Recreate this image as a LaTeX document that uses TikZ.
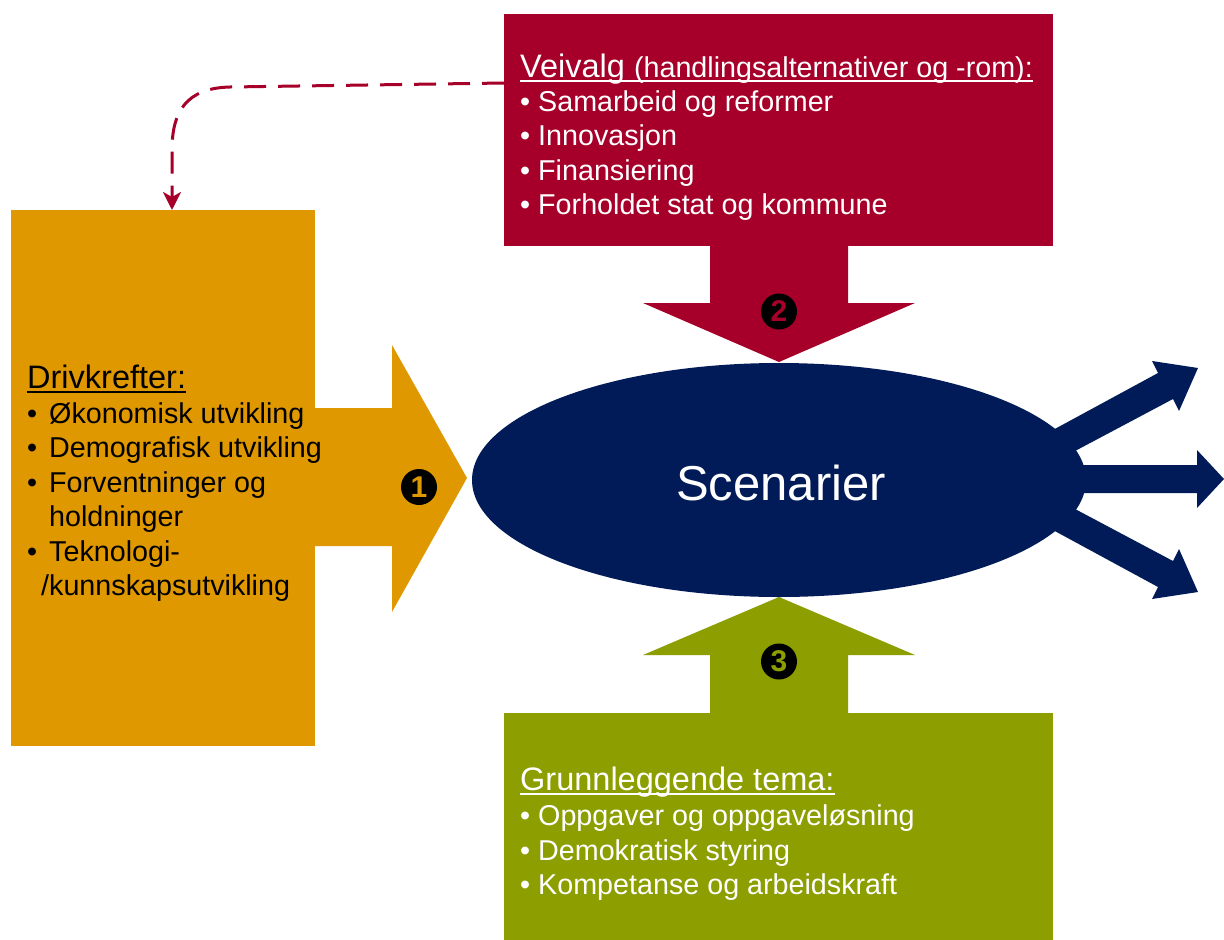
\documentclass[tikz,border=0pt]{standalone}
\usepackage{fontspec}
\setmainfont{Liberation Sans}
\usetikzlibrary{arrows.meta,shapes.geometric,calc}
\definecolor{vred}{RGB}{166,0,42}
\definecolor{dorange}{RGB}{224,152,0}
\definecolor{golive}{RGB}{140,158,0}
\definecolor{snavy}{RGB}{0,27,88}
\begin{document}
\begin{tikzpicture}[x=1pt,y=-1pt,
  boxnode/.style={inner sep=0pt, outer sep=0pt, anchor=north west},
  txt/.style={inner sep=0pt, anchor=base west, font=\fontsize{28.7}{34}\selectfont},
  ttl/.style={inner sep=0pt, anchor=base west, font=\fontsize{32.5}{38}\selectfont},
  num/.style={circle, fill=black, minimum size=36pt, inner sep=0pt, font=\fontsize{30}{30}\selectfont\bfseries},
  uline/.style={line width=2pt},
  dashline/.style={draw=vred, line width=3pt, dash pattern=on 22pt off 12pt,
     -{Stealth[length=18pt,width=18pt,inset=5pt]}}]
\useasboundingbox (0,0) rectangle (1224,940);
\fill[white] (0,0) rectangle (1224,940);

% boxes
\node[boxnode, fill=dorange, minimum width=304pt, minimum height=536pt] (drivbox) at (11,210) {};
\node[boxnode, fill=vred, minimum width=549pt, minimum height=232pt] (veibox) at (504,14) {};
\node[boxnode, fill=golive, minimum width=549pt, minimum height=227pt] (grunnbox) at (504,713) {};

% block arrows
\fill[dorange] (314,408) -- (392,408) -- (392,345) -- (467,478) -- (392,612) -- (392,546) -- (314,546) -- cycle;
\fill[vred] (710,245) -- (848,245) -- (848,303) -- (915,303) -- (779,362) -- (643,303) -- (710,303) -- cycle;
\fill[golive] (710,714) -- (710,655) -- (643,655) -- (779,597) -- (915,655) -- (848,655) -- (848,714) -- cycle;

% ellipse
\node[ellipse, fill=snavy, minimum width=614pt, minimum height=234pt, inner sep=0pt] (scen) at (779,480) {};
\node[inner sep=0pt, text=white, font=\fontsize{49}{58}\selectfont] (scentxt) at (781,483) {Scenarier};

% outgoing arrows
\fill[snavy] (1040,437) -- (1158,373) -- (1152,361) -- (1198,368) -- (1179,411) -- (1173,399) -- (1060,459) -- cycle;
\fill[snavy] (1000,465) -- (1197,465) -- (1197,450) -- (1224,479) -- (1197,508) -- (1197,493) -- (1000,493) -- cycle;
\fill[snavy] (1040,523) -- (1158,587) -- (1152,599) -- (1198,592) -- (1179,549) -- (1173,561) -- (1060,501) -- cycle;

% numbers
\node[num, text=dorange] (n1) at (419,487) {1};
\node[num, text=vred] (n2) at (779,311.5) {2};
\node[num, text=golive] (n3) at (779,661.5) {3};

% dashed connector
\draw[dashline] ($(veibox.north west)+(0,69)$) -- (230,87) .. controls (186,88) and (172,112) .. (172,150) -- (172,0 |- drivbox.north);

% red box text
\node[ttl, text=white] (vt) at (520,77) {Veivalg {\fontsize{28.7}{34}\selectfont (handlingsalternativer og -rom):}};
\draw[uline, white] ($(vt.base west)+(0,4)$) -- ($(vt.base east)+(0,4)$);
\node[txt, text=white] (v1) at (520,111) {• Samarbeid og reformer};
\node[txt, text=white] (v2) at (520,145.5) {• Innovasjon};
\node[txt, text=white] (v3) at (520,180) {• Finansiering};
\node[txt, text=white] (v4) at (520,214.5) {• Forholdet stat og kommune};

% orange box text
\node[ttl, text=black] (dt) at (27,388) {Drivkrefter:};
\draw[uline, black] ($(dt.base west)+(0,4)$) -- ($(dt.base east)+(0,4)$);
\node[txt] (d1) at (27,423) {\makebox[22pt][l]{•}Økonomisk utvikling};
\node[txt] (d2) at (27,457.5) {\makebox[22pt][l]{•}Demografisk utvikling};
\node[txt] (d3) at (27,492) {\makebox[22pt][l]{•}Forventninger og};
\node[txt] (d3b) at (49,526.5) {holdninger};
\node[txt] (d4) at (27,561) {\makebox[22pt][l]{•}Teknologi-};
\node[txt] (d4b) at (41,595.5) {/kunnskapsutvikling};

% green box text
\node[ttl, text=white] (gt) at (520,790) {Grunnleggende tema:};
\draw[uline, white] ($(gt.base west)+(0,4)$) -- ($(gt.base east)+(0,4)$);
\node[txt, text=white] (g1) at (520,825.5) {• Oppgaver og oppgaveløsning};
\node[txt, text=white] (g2) at (520,860) {• Demokratisk styring};
\node[txt, text=white] (g3) at (520,894.5) {• Kompetanse og arbeidskraft};
\end{tikzpicture}
\end{document}
